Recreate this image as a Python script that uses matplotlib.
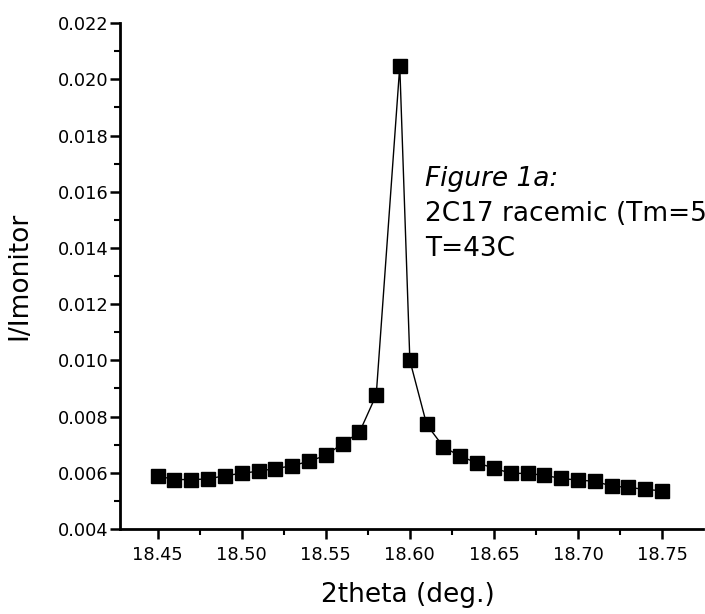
import numpy as np
import matplotlib.pyplot as plt
from matplotlib.ticker import MultipleLocator, FormatStrFormatter

plt.rcParams['font.family'] = ['DejaVu Sans']

# data
two_theta = [18.45, 18.46, 18.47, 18.48, 18.49, 18.50, 18.51, 18.52, 18.53, 18.54,
             18.55, 18.56, 18.57, 18.58, 18.594, 18.60, 18.61, 18.62, 18.63, 18.64,
             18.65, 18.66, 18.67, 18.68, 18.69, 18.70, 18.71, 18.72, 18.73, 18.74,
             18.75]
intensity = [0.00589, 0.00576, 0.00576, 0.00578, 0.00590, 0.00598, 0.00606, 0.00615,
             0.00625, 0.00641, 0.00662, 0.00704, 0.00744, 0.00877, 0.02047, 0.01000,
             0.00772, 0.00692, 0.00659, 0.00635, 0.00617, 0.00598, 0.00598, 0.00591,
             0.00580, 0.00574, 0.00570, 0.00553, 0.00548, 0.00541, 0.00536]

note_lines = ['Figure 1a:', '2C17 racemic (Tm=5', 'T=43C']

fig = plt.figure(figsize=(7.05, 6.14), dpi=100)
ax = fig.add_axes([0.170, 0.1384, 0.827, 0.824])

ax.plot(two_theta, intensity, '-', color='black', lw=1.0,
        marker='s', markersize=10.5, markerfacecolor='black', markeredgecolor='black')

ax.set_xlim(18.4275, 18.7743)
ax.set_ylim(0.004, 0.022)
ax.xaxis.set_major_locator(MultipleLocator(0.05))
ax.xaxis.set_minor_locator(MultipleLocator(0.025))
ax.yaxis.set_major_locator(MultipleLocator(0.002))
ax.yaxis.set_minor_locator(MultipleLocator(0.001))
ax.xaxis.set_major_formatter(FormatStrFormatter('%.2f'))
ax.yaxis.set_major_formatter(FormatStrFormatter('%.3f'))

for side in ['top', 'right']:
    ax.spines[side].set_visible(False)
for side in ['left', 'bottom']:
    ax.spines[side].set_linewidth(2)

ax.tick_params(which='major', direction='out', length=7, width=1.8, labelsize=12.8)
ax.tick_params(which='minor', direction='out', length=4, width=1.5)
ax.tick_params(axis='x', pad=5)
ax.tick_params(axis='y', pad=1)

ax.set_xlabel('2theta (deg.)', fontsize=19)
ax.set_ylabel('I/Imonitor', fontsize=19)
ax.xaxis.set_label_coords(0.494, -0.104)
ax.yaxis.set_label_coords(-0.150, 0.500)

# annotation block, baselines in pixels from top
fig.text(425 / 705, 1 - 186 / 614, note_lines[0], fontsize=19, style='italic', va='baseline')
fig.text(425 / 705, 1 - 221 / 614, note_lines[1], fontsize=19, va='baseline')
fig.text(425 / 705, 1 - 256 / 614, note_lines[2], fontsize=19, va='baseline')

plt.savefig('out.png', dpi=100)
